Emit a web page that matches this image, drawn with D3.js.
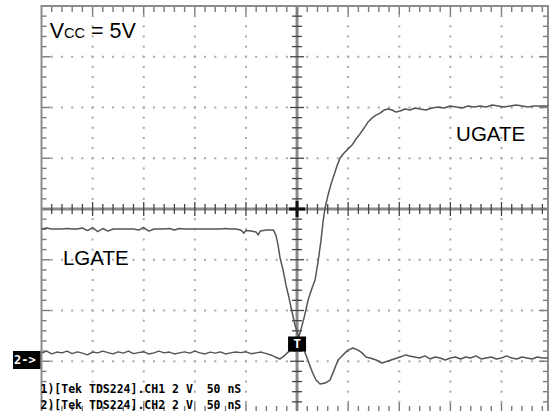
<!DOCTYPE html>
<html>
<head>
<meta charset="utf-8">
<script src="https://cdn.jsdelivr.net/npm/d3@7"></script>
<style>
  body { margin: 0; background: #fff; }
  svg { display: block; }
</style>
</head>
<body>
<svg id="scope" width="557" height="411"></svg>
<script>
// time in ns (50 ns/div), volts relative to screen centre (2 V/div)
const ugate = [[-250,-5.68],[-245,-5.60],[-240,-5.71],[-235,-5.64],[-230,-5.67],[-225,-5.60],[-220,-5.70],[-215,-5.63],[-210,-5.68],[-205,-5.75],[-200,-5.64],[-195,-5.67],[-190,-5.60],[-185,-5.66],[-180,-5.71],[-175,-5.63],[-170,-5.68],[-165,-5.60],[-160,-5.70],[-155,-5.66],[-150,-5.63],[-145,-5.71],[-140,-5.67],[-135,-5.60],[-130,-5.67],[-125,-5.64],[-120,-5.71],[-115,-5.67],[-110,-5.63],[-105,-5.68],[-100,-5.60],[-95,-5.67],[-90,-5.71],[-85,-5.64],[-80,-5.68],[-75,-5.63],[-70,-5.71],[-65,-5.67],[-60,-5.64],[-55,-5.66],[-50,-5.63],[-45,-5.70],[-40,-5.67],[-35,-5.64],[-30,-5.70],[-25,-5.76],[-21.5,-5.83],[-16.6,-5.91],[-12.7,-5.79],[-8.8,-5.64],[-4.9,-5.56],[-1,-5.36],[2.9,-4.89],[6.8,-4.30],[10.8,-3.59],[14.7,-3.11],[17.6,-2.80],[20.5,-2.09],[23.5,-1.22],[25.4,-0.51],[27.4,0.04],[30.3,0.55],[33.3,0.99],[36.2,1.34],[39.1,1.70],[42.1,2.01],[46,2.21],[49.9,2.37],[53.8,2.52],[57.7,2.76],[61.6,2.96],[65.6,3.19],[69.5,3.43],[73.4,3.59],[77.3,3.70],[81.2,3.78],[85.1,3.90],[89,3.94],[93,3.90],[96.9,3.82],[100.8,3.86],[105.7,3.94],[110.6,3.90],[115.5,3.98],[120.4,3.94],[126.2,3.90],[132.1,3.98],[138,4.02],[143.8,3.98],[149.7,4.06],[155.6,4.02],[161.4,3.98],[167.3,4.06],[173.2,4.02],[179,4.06],[184.9,4.02],[190.8,4.10],[196.7,4.06],[202.5,4.02],[208.4,4.06],[214.3,4.10],[220.2,4.06],[226,4.02],[231.9,4.06],[237.8,4.06],[245.6,4.06]];

const lgate = [[-250,-0.79],[-245,-0.75],[-240,-0.79],[-235,-0.79],[-230,-0.79],[-225,-0.77],[-220,-0.79],[-215,-0.79],[-210,-0.75],[-205,-0.85],[-200,-0.73],[-195,-0.89],[-190,-0.77],[-185,-0.87],[-180,-0.79],[-175,-0.79],[-170,-0.79],[-165,-0.79],[-160,-0.79],[-155,-0.83],[-150,-0.73],[-145,-0.87],[-140,-0.79],[-135,-0.79],[-130,-0.79],[-125,-0.77],[-120,-0.83],[-115,-0.77],[-110,-0.79],[-105,-0.79],[-100,-0.79],[-95,-0.79],[-90,-0.79],[-85,-0.79],[-80,-0.79],[-75,-0.79],[-70,-0.77],[-65,-0.79],[-60,-0.79],[-55,-0.83],[-52,-0.95],[-50,-0.85],[-45,-0.87],[-40,-0.91],[-38,-1.02],[-36,-0.87],[-30,-0.83],[-25,-0.83],[-23,-0.83],[-20.5,-1.06],[-18.6,-1.42],[-16.6,-1.93],[-13.7,-2.40],[-10.8,-3.00],[-7.8,-3.51],[-4.9,-4.06],[-2,-4.57],[1,-4.97],[3.9,-5.24],[6.8,-5.56],[9.8,-5.87],[12.7,-6.19],[15.7,-6.50],[18.6,-6.74],[22.5,-6.90],[27.4,-6.86],[32.3,-6.74],[36.2,-6.35],[40.1,-5.95],[45,-5.75],[49.9,-5.56],[54.8,-5.48],[59.7,-5.56],[63.6,-5.67],[67.5,-5.83],[71.4,-5.87],[77.3,-5.95],[83.2,-6.07],[89,-5.99],[94.9,-5.91],[100.8,-5.83],[106.6,-5.75],[110,-5.79],[115,-5.83],[120,-5.87],[125,-5.79],[130,-5.91],[135,-5.83],[140,-5.87],[145,-5.95],[150,-5.87],[155,-5.83],[160,-5.91],[165,-5.83],[170,-5.87],[175,-5.79],[180,-5.91],[185,-5.87],[190,-5.83],[195,-5.91],[200,-5.87],[205,-5.79],[210,-5.87],[215,-5.91],[220,-5.83],[225,-5.87],[230,-5.91],[235,-5.83],[240,-5.87],[245.6,-5.87]];

const timeRange = [-250, 245.5];   // screen capture is cut a little on the right
const voltRange = [-8, 8];
const nsPerDiv = 50;
const voltsPerDiv = 2;
const triggerLevel = -5.3;
const ch2Marker = -5.95;

const traceLabels = [
    { text: 'UGATE', t: 155.6, v: 2.68 },
    { text: 'LGATE', t: -229, v: -2.21 }
];
const footerLines = ['1)[Tek TDS224].CH1 2 V  50 nS', '2)[Tek TDS224].CH2 2 V  50 nS'];

const svg = d3.select('#scope');
const x = d3.scaleLinear().domain(timeRange).range([41.5, 548]);
const y = d3.scaleLinear().domain(voltRange).range([412, 6]);

const x0 = x(timeRange[0]), x1 = x(timeRange[1]);
const y0 = y(voltRange[1]), y1 = y(voltRange[0]);

const majorT = d3.range(timeRange[0], timeRange[1], nsPerDiv);
const minorT = d3.range(timeRange[0], timeRange[1], nsPerDiv / 5);
const majorV = d3.range(voltRange[0], voltRange[1] + 0.01, voltsPerDiv);
const minorV = d3.range(voltRange[0], voltRange[1] + 0.01, voltsPerDiv / 5);
const isMajorT = t => Math.abs(t / nsPerDiv - Math.round(t / nsPerDiv)) < 1e-6;
const isMajorV = v => Math.abs(v / voltsPerDiv - Math.round(v / voltsPerDiv)) < 1e-6;

// Dotted graticule
const dots = [];
majorT.filter(t => t !== 0 && t !== timeRange[0]).forEach(t => {
    minorV.forEach(v => { if (v > voltRange[0] && v < voltRange[1]) dots.push([t, v]); });
});
majorV.filter(v => v !== 0 && v !== voltRange[0] && v !== voltRange[1]).forEach(v => {
    minorT.forEach(t => { if (t > timeRange[0]) dots.push([t, v]); });
});
svg.append('g')
    .selectAll('rect')
    .data(dots)
    .enter()
    .append('rect')
    .attr('x', d => x(d[0]) - 1)
    .attr('y', d => y(d[1]) - 1)
    .attr('width', 2)
    .attr('height', 2)
    .attr('fill', '#a8a8a8');

// Center axes
const axes = svg.append('g');
axes.append('line').attr('x1', x0).attr('x2', x1).attr('y1', y(0)).attr('y2', y(0))
    .style('stroke', '#8a8a8a').style('stroke-width', 3);
axes.append('line').attr('x1', x(0)).attr('x2', x(0)).attr('y1', y0).attr('y2', y1)
    .style('stroke', '#8a8a8a').style('stroke-width', 3);
axes.selectAll('.ct')
    .data(minorT.filter(t => t > timeRange[0]))
    .enter()
    .append('line')
    .attr('x1', d => x(d)).attr('x2', d => x(d))
    .attr('y1', d => y(0) - (isMajorT(d) ? 7 : 5))
    .attr('y2', d => y(0) + (isMajorT(d) ? 7 : 5))
    .style('stroke', '#444').style('stroke-width', 1.3);
axes.selectAll('.cv')
    .data(minorV.filter(v => v > voltRange[0] && v < voltRange[1]))
    .enter()
    .append('line')
    .attr('y1', d => y(d)).attr('y2', d => y(d))
    .attr('x1', d => x(0) - (isMajorV(d) ? 7 : 5))
    .attr('x2', d => x(0) + (isMajorV(d) ? 7 : 5))
    .style('stroke', '#444').style('stroke-width', 1.3);
// dark cross at the centre
axes.append('line').attr('x1', x(0) - 8).attr('x2', x(0) + 8).attr('y1', y(0)).attr('y2', y(0))
    .style('stroke', '#111').style('stroke-width', 3);
axes.append('line').attr('x1', x(0)).attr('x2', x(0)).attr('y1', y(0) - 8).attr('y2', y(0) + 8)
    .style('stroke', '#111').style('stroke-width', 3);

// Frame with edge ticks
const frame = svg.append('g');
const edgeTicks = [];
minorT.filter(t => t > timeRange[0]).forEach(t => {
    const len = isMajorT(t) ? 9 : 6;
    edgeTicks.push([x(t), y0, x(t), y0 + len]);
    edgeTicks.push([x(t), y1, x(t), y1 - len]);
});
minorV.filter(v => v > voltRange[0] && v < voltRange[1]).forEach(v => {
    const len = isMajorV(v) ? 9 : 5;
    edgeTicks.push([x0, y(v), x0 + len, y(v)]);
    edgeTicks.push([x1, y(v), x1 - len, y(v)]);
});
frame.selectAll('line')
    .data(edgeTicks)
    .enter()
    .append('line')
    .attr('x1', d => d[0]).attr('y1', d => d[1])
    .attr('x2', d => d[2]).attr('y2', d => d[3])
    .style('stroke', '#7a7a7a').style('stroke-width', 1.4);
frame.append('rect')
    .attr('x', x0).attr('y', y0)
    .attr('width', x1 - x0).attr('height', y1 - y0)
    .attr('fill', 'none')
    .style('stroke', '#8c8c8c').style('stroke-width', 2);

// Traces
svg.append('clipPath').attr('id', 'screen')
    .append('rect').attr('x', x0).attr('y', y0).attr('width', x1 - x0).attr('height', y1 - y0);
const line = d3.line().x(d => x(d[0])).y(d => y(d[1]));
svg.append('g')
    .attr('clip-path', 'url(#screen)')
    .selectAll('path')
    .data([lgate, ugate])
    .enter()
    .append('path')
    .attr('d', line)
    .attr('fill', 'none')
    .style('stroke', '#555')
    .style('stroke-width', 1.5)
    .style('stroke-linejoin', 'round');

// Trigger marker
const trig = svg.append('g');
trig.append('rect')
    .attr('x', x(0) - 9).attr('y', y(triggerLevel) - 7)
    .attr('width', 18).attr('height', 15)
    .attr('fill', '#000');
trig.append('text')
    .attr('x', x(0)).attr('y', y(triggerLevel) + 5)
    .attr('text-anchor', 'middle')
    .attr('fill', '#fff')
    .style('font', 'bold 13px "DejaVu Sans Mono", monospace')
    .text('T');

// CH2 ground marker
const gnd = svg.append('g');
gnd.append('rect')
    .attr('x', 13).attr('y', y(ch2Marker) - 9)
    .attr('width', x0 - 14).attr('height', 18)
    .attr('fill', '#000');
gnd.append('text')
    .attr('x', 14).attr('y', y(ch2Marker) + 4.5)
    .attr('fill', '#fff')
    .style('font', 'bold 12px "DejaVu Sans Mono", monospace')
    .text('2->');

// Annotations
const vcc = svg.append('text')
    .attr('x', x(-242)).attr('y', y(6.74))
    .style('font-family', '"Liberation Sans", Arial, sans-serif')
    .attr('fill', '#000');
vcc.append('tspan').style('font-size', '21.5px').text('V');
vcc.append('tspan').style('font-size', '14.5px').text('CC');
vcc.append('tspan').style('font-size', '21.5px').text(' = 5V');

svg.selectAll('.lbl')
    .data(traceLabels)
    .enter()
    .append('text')
    .attr('x', d => x(d.t))
    .attr('y', d => y(d.v))
    .style('font', '20.5px "Liberation Sans", Arial, sans-serif')
    .attr('fill', '#000')
    .text(d => d.text);

svg.selectAll('.foot')
    .data(footerLines)
    .enter()
    .append('text')
    .attr('x', x0 - 1)
    .attr('y', (d, i) => 393 + i * 16)
    .attr('fill', '#000')
    .style('font', 'bold 11.5px "DejaVu Sans Mono", monospace')
    .style('white-space', 'pre')
    .attr('xml:space', 'preserve')
    .text(d => d);
</script>
</body>
</html>
